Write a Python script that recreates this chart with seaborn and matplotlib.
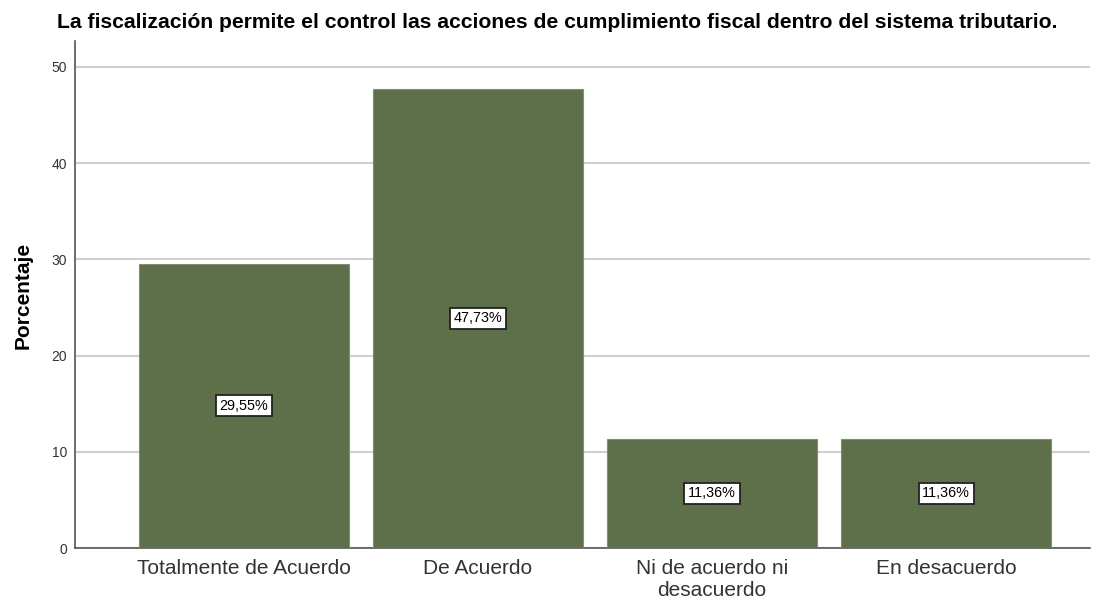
import matplotlib
matplotlib.use("Agg")
import matplotlib.pyplot as plt
import seaborn as sns
import pandas as pd

categories = ["Totalmente de Acuerdo", "De Acuerdo", "Ni de acuerdo ni\ndesacuerdo", "En desacuerdo"]
values = [29.55, 47.73, 11.36, 11.36]
labels = ["29,55%", "47,73%", "11,36%", "11,36%"]
yticks = [0, 10, 20, 30, 40, 50]

sns.set_theme(style="white")
plt.rcParams['font.family'] = ['Liberation Sans', 'DejaVu Sans']

fig = plt.figure(figsize=(11.01, 5.98), dpi=100)
ax = fig.add_axes([75/1101, 1-548/598, (1090-75)/1101, (548-41)/598])

df = pd.DataFrame({"cat": categories, "val": values})
sns.barplot(data=df, x="cat", y="val", ax=ax, color="#5d7049", saturation=1,
            width=0.897, edgecolor="#7f8f70", linewidth=0.8, zorder=3)

ax.set_xlim(-0.722, 3.615)
ax.set_ylim(0, 52.7)
ax.set_yticks(yticks)
ax.set_yticklabels([str(t) for t in yticks], fontsize=10, color="#333333")
ax.tick_params(axis='x', labelsize=15, colors="#333333", length=0, pad=8)
ax.tick_params(axis='y', length=0, pad=5.5)
ax.yaxis.grid(True, color="#d0d0d0", linewidth=1.5, zorder=0)
ax.set_axisbelow(True)
for s in ["top", "right"]:
    ax.spines[s].set_visible(False)
for s in ["left", "bottom"]:
    ax.spines[s].set_color("#555555")
    ax.spines[s].set_linewidth(1.2)

ax.set_xlabel("")
ax.set_ylabel("")
fig.text(23/1101, 1-295/598, "Porcentaje", rotation=90, ha="center", va="center",
         fontsize=15, fontweight="bold", color="black")

for i, (v, lab) in enumerate(zip(values, labels)):
    ax.text(i, v / 2, lab, ha="center", va="center", fontsize=10.4, color="black", zorder=5,
            bbox=dict(boxstyle="square,pad=0.25", facecolor="white", edgecolor="#222222", linewidth=1.3))

fig.text(557/1101, 1-23/598, "La fiscalización permite el control las acciones de cumplimiento fiscal dentro del sistema tributario.",
         ha="center", va="center", fontsize=15.2, fontweight="bold", color="black")

fig.savefig("out.png", dpi=100)
